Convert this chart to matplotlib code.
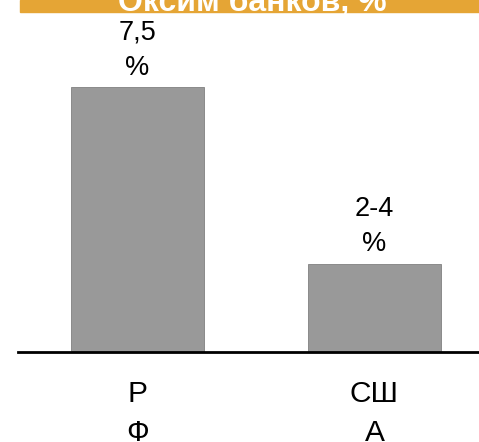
import matplotlib.pyplot as plt
from matplotlib.patches import Rectangle

countries = ['Р\nФ', 'СШ\nА']
values = [7.5, 2.5]
value_labels = ['7,5\n%', '2-4\n%']
title = 'Оксим банков, %'

fig = plt.figure(figsize=(4.79, 4.42), dpi=100)
ax = fig.add_axes([18/479, 90/442, 461/479, 340/442])

x = range(len(values))
ax.bar(x, values, width=0.561, color='#999999', edgecolor='#808080', linewidth=0.6)
ax.set_xlim(-0.504, 1.441)
ax.set_ylim(0, 9.62)

for xi, v, lab in zip(x, values, value_labels):
    ax.text(xi, v + 0.18, lab, ha='center', va='bottom', fontsize=19.5,
            family='Liberation Sans', linespacing=1.45)

for xi, lab in zip(x, countries):
    ax.text(xi, -0.8, lab, ha='center', va='top', fontsize=21.5,
            family='Liberation Sans', linespacing=1.5)

for s in ['top', 'right', 'left']:
    ax.spines[s].set_visible(False)
ax.spines['bottom'].set_linewidth(2)
ax.set_xticks([])
ax.set_yticks([])

# orange title band, text cut at the top
fig.patches.append(Rectangle((20/479, 430/442), 459/479, 12/442,
                             transform=fig.transFigure, color='#E5A535'))
fig.text(252/479, 430.5/442, title, ha='center', va='baseline', color='white',
         fontsize=23, fontweight='bold', family='Liberation Sans')

fig.savefig('out.png', dpi=100)
